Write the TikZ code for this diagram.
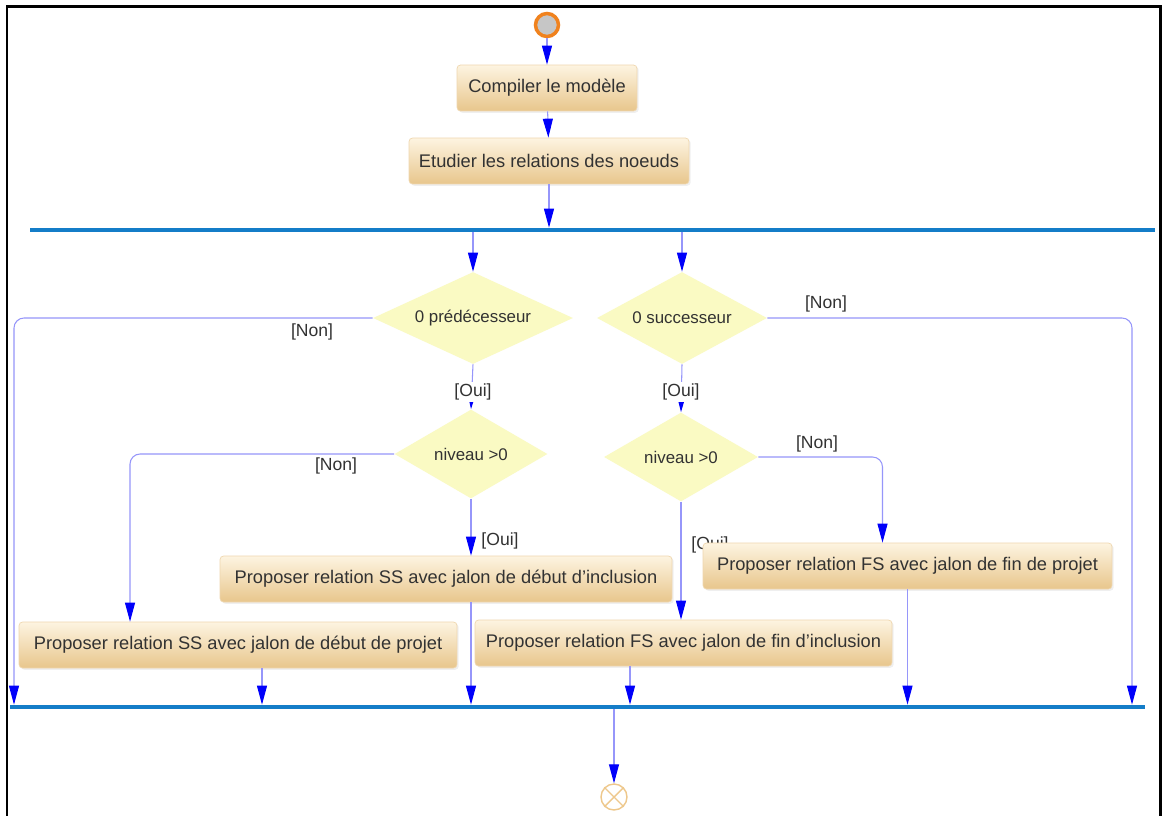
\documentclass[tikz,border=0pt]{standalone}
\usepackage{fontspec}
\setmainfont{Liberation Sans}
\usetikzlibrary{shapes.geometric, arrows.meta, positioning, calc, shadows}
\definecolor{flowLine}{RGB}{150,150,250}
\definecolor{tipBlue}{RGB}{0,0,250}
\definecolor{barBlue}{RGB}{20,125,200}
\definecolor{boxTop}{RGB}{253,244,225}
\definecolor{boxBottom}{RGB}{232,198,140}
\definecolor{decisionFill}{RGB}{250,250,195}
\definecolor{textGray}{RGB}{50,50,50}
\definecolor{startOrange}{RGB}{240,130,30}
\definecolor{endOrange}{RGB}{238,200,140}

\begin{document}
\begin{tikzpicture}[x=0.02cm, y=-0.02cm,
    action/.style={rounded corners=2pt, top color=boxTop, bottom color=boxBottom, draw=boxBottom!70,
        text=textGray, minimum height=0.92cm, font=\fontsize{10.4}{12}\selectfont,
        drop shadow={opacity=0.12, shadow xshift=1pt, shadow yshift=-1pt}},
    decision/.style={diamond, aspect=2.2, fill=decisionFill, text=textGray, inner sep=0pt, font=\fontsize{9.6}{11}\selectfont},
    bar/.style={fill=barBlue, inner sep=0pt, minimum height=0.08cm},
    flow/.style={draw=flowLine, line width=0.6pt, -{Triangle[length=0.38cm, width=0.2cm, color=tipBlue]}},
    guard/.style={text=textGray, font=\fontsize{10}{12}\selectfont, inner sep=1pt}]
    \useasboundingbox (0,0) rectangle (1163,815);
    \clip (0,0) rectangle (1163,815);
    \fill[white] (0,0) rectangle (1163,815);
    \draw[line width=0.06cm] (7,840) -- (7,6) -- (1160,6) -- (1160,840);

    % Start and first actions
    \node[circle, draw=startOrange, line width=0.07cm, fill=gray!45, minimum size=0.46cm, inner sep=0pt] (start) at (547,25) {};
    \node[action, minimum width=3.6cm] (compiler) at (547,88) {Compiler le modèle};
    \node[action, minimum width=5.6cm] (etudier) at (549,161) {Etudier les relations des noeuds};

    % Fork bar
    \node[bar, minimum width=22.5cm] (fork) at (592.5,230) {};

    % Decisions
    \node[decision, minimum width=4cm, minimum height=1.84cm] (pred) at (473,318) {0 prédécesseur};
    \node[decision, minimum width=3.4cm, minimum height=1.84cm] (succ) at (682,318) {0 successeur};
    \node[decision, minimum width=3.06cm, minimum height=1.78cm] (niveauP) at (471,454) {niveau >0};
    \node[decision, minimum width=3.08cm, minimum height=1.78cm] (niveauS) at (681,457) {niveau >0};

    % Guards
    \node[guard] (nonPred) at (312,332) {[Non]};
    \node[guard] (nonSucc) at (826,304) {[Non]};
    \node[guard] (nonNivP) at (336,466) {[Non]};
    \node[guard] (nonNivS) at (817,444) {[Non]};
    \node[guard] (ouiNivP) at (500,541) {[Oui]};
    \node[guard] (ouiNivS) at (710,545) {[Oui]};

    % Proposals
    \node[action, minimum width=9.04cm] (ssInclusion) at (446,579) {Proposer relation SS avec jalon de début d'inclusion};
    \node[action, minimum width=8.76cm] (ssProjet) at (238,645) {Proposer relation SS avec jalon de début de projet};
    \node[action, minimum width=8.18cm] (fsProjet) at (907.5,566) {Proposer relation FS avec jalon de fin de projet};
    \node[action, minimum width=8.34cm] (fsInclusion) at (683.5,643) {Proposer relation FS avec jalon de fin d'inclusion};

    % Join bar and end
    \node[bar, minimum width=22.7cm] (join) at (577.5,707) {};
    \node[circle, draw=endOrange, line width=0.8pt, fill=white, minimum size=0.52cm, inner sep=0pt] (end) at (614,797) {};
    \draw[endOrange, line width=0.8pt] (end.north west) -- (end.south east) (end.north east) -- (end.south west);

    \coordinate (railLeft) at (14,707);
    \coordinate (railRight) at (1132,707);
    \coordinate (ssIn) at ([xshift=-2.16cm]ssProjet.north);
    \coordinate (ssOut) at ([xshift=0.48cm]ssProjet.south);
    \coordinate (fsIn) at ([xshift=-0.5cm]fsProjet.north);
    \coordinate (fsOut) at ([xshift=-1.07cm]fsInclusion.south);

    % Connectors
    \draw[flow] (start) -- (compiler);
    \draw[flow] (compiler) -- (etudier);
    \draw[flow] (etudier) -- (etudier |- fork.north);
    \draw[flow] (fork.south -| pred.north) -- (pred.north);
    \draw[flow] (fork.south -| succ.north) -- (succ.north);
    \draw[flow, rounded corners=0.2cm] (pred.west) -| (railLeft |- join.north);
    \draw[flow, rounded corners=0.2cm] (succ.east) -| (railRight |- join.north);
    \draw[flow] (pred.south) -- (niveauP.north);
    \draw[flow] (succ.south) -- (niveauS.north);
    \draw[flow, rounded corners=0.2cm] (niveauP.west) -| (ssIn);
    \draw[flow, rounded corners=0.2cm] (niveauS.east) -| (fsIn);
    \draw[flow] (niveauP.south) -- (niveauP.south |- ssInclusion.north);
    \draw[flow] (niveauS.south) -- (niveauS.south |- fsInclusion.north);
    \draw[flow] (ssOut) -- (ssOut |- join.north);
    \draw[flow] (niveauP |- ssInclusion.south) -- (niveauP |- join.north);
    \draw[flow] (fsOut) -- (fsOut |- join.north);
    \draw[flow] (fsProjet) -- (fsProjet |- join.north);
    \draw[flow] (end |- join.south) -- (end);

    % Guards sitting on the lines
    \node[guard, fill=white] (ouiPred) at (473,392) {[Oui]};
    \node[guard, fill=white] (ouiSucc) at (681,392) {[Oui]};
\end{tikzpicture}
\end{document}
